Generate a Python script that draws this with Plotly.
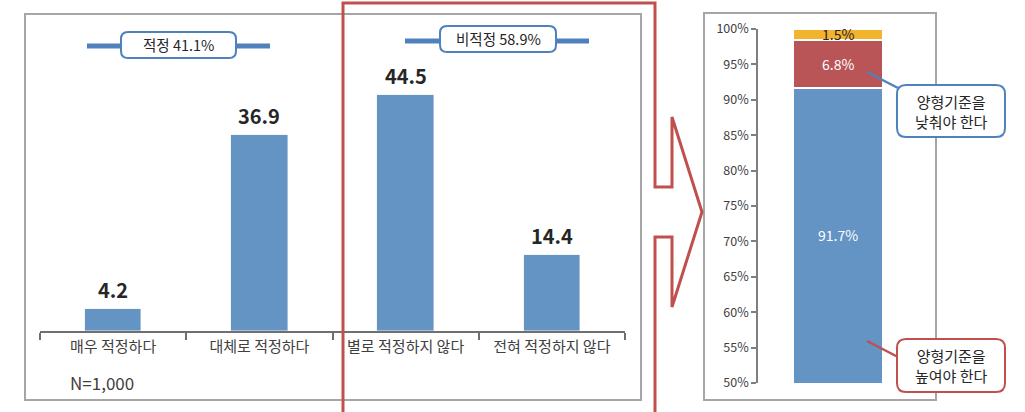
import plotly.graph_objects as go

# ---------------- data ----------------
categories = ["매우 적정하다", "대체로 적정하다", "별로 적정하지 않다", "전혀 적정하지 않다"]
values = [4.2, 36.9, 44.5, 14.4]
group_labels = ["적정 41.1%", "비적정 58.9%"]
sample_note = "N=1,000"

stack_names = ["양형기준을 높여야 한다", "양형기준을 낮춰야 한다", "기타"]
stack_values = [91.7, 6.8, 1.5]
stack_colors = ["#6394C3", "#B95457", "#F2B32F"]
stack_text_colors = ["white", "white", "#262626"]
callout_texts = ["양형기준을<br>낮춰야 한다", "양형기준을<br>높여야 한다"]
right_ticks = [50, 55, 60, 65, 70, 75, 80, 85, 90, 95, 100]

W, H = 1025, 412
FONT = "Noto Sans CJK KR, Noto Sans, sans-serif"
BLUE = "#6394C3"
LINE_BLUE = "#4F81BD"
RED = "#C0504D"
GRAY = "#A6A6A6"


def px(x):
    return x / W


def py(y):
    return 1 - y / H


fig = go.Figure()

# left bar chart
fig.add_trace(go.Bar(
    x=categories, y=values, marker_color=BLUE, width=0.385,
    xaxis="x", yaxis="y", showlegend=False, hoverinfo="x+y"))

# right stacked bar
for name, v, c in zip(stack_names, stack_values, stack_colors):
    fig.add_trace(go.Bar(
        x=["양형기준"], y=[v], name=name, marker_color=c,
        marker_line_color="white", marker_line_width=2, width=1.0,
        xaxis="x2", yaxis="y2", showlegend=False))

annotations = []
# value labels
for c, v in zip(categories, values):
    annotations.append(dict(
        x=c, y=v, xref="x", yref="y", text=f"{v:.1f}", showarrow=False,
        xanchor="center", yanchor="bottom", yshift=3,
        font=dict(family=FONT, size=20, color="#262626", weight="bold")))

# stacked labels
y_min = right_ticks[0]
cum = 0
for v, tc in zip(stack_values, stack_text_colors):
    lo = max(cum, y_min)
    hi = cum + v
    annotations.append(dict(
        x="양형기준", y=(lo + hi) / 2, xref="x2", yref="y2", text=f"{v}%",
        xanchor="center", yanchor="middle",
        showarrow=False, font=dict(family=FONT, size=14, color=tc)))
    cum = hi

shapes = []


def rect(x0, y0, x1, y1, color, width, fill="rgba(0,0,0,0)"):
    shapes.append(dict(type="rect", xref="paper", yref="paper",
                       x0=px(x0), x1=px(x1), y0=py(y0), y1=py(y1),
                       line=dict(color=color, width=width), fillcolor=fill))


def line(x0, y0, x1, y1, color, width):
    shapes.append(dict(type="line", xref="paper", yref="paper",
                       x0=px(x0), x1=px(x1), y0=py(y0), y1=py(y1),
                       line=dict(color=color, width=width)))


def rrect(x0, y0, x1, y1, r, color, width, fill="white"):
    pts = [
        f"M {px(x0 + r)} {py(y0)}",
        f"L {px(x1 - r)} {py(y0)}",
        f"Q {px(x1)} {py(y0)} {px(x1)} {py(y0 + r)}",
        f"L {px(x1)} {py(y1 - r)}",
        f"Q {px(x1)} {py(y1)} {px(x1 - r)} {py(y1)}",
        f"L {px(x0 + r)} {py(y1)}",
        f"Q {px(x0)} {py(y1)} {px(x0)} {py(y1 - r)}",
        f"L {px(x0)} {py(y0 + r)}",
        f"Q {px(x0)} {py(y0)} {px(x0 + r)} {py(y0)}",
        "Z",
    ]
    shapes.append(dict(type="path", xref="paper", yref="paper", path=" ".join(pts),
                       line=dict(color=color, width=width), fillcolor=fill))


def note(x, y, text, size, color, xanchor="center"):
    annotations.append(dict(x=px(x), y=py(y), xref="paper", yref="paper",
                            text=text, showarrow=False, xanchor=xanchor,
                            yanchor="middle", align="center",
                            font=dict(family=FONT, size=size, color=color)))


# panel frames
rect(25, 14, 641, 400, GRAY, 2)
rect(704, 13, 936, 400, GRAY, 2)

# group brackets
line(87, 46, 270, 46, LINE_BLUE, 5)
rrect(121, 32, 236, 58, 7, LINE_BLUE, 2)
line(405, 41, 589, 41, LINE_BLUE, 5)
rrect(440, 26, 556, 52, 7, LINE_BLUE, 2)
note(178.5, 45, group_labels[0], 14.5, "#262626")
note(498, 39, group_labels[1], 14.5, "#262626")

# red arrow frame
arrow_pts = [(343, 412), (343, 3), (655, 3), (655, 187), (672, 187), (672, 117),
             (702, 212), (672, 307), (672, 237), (655, 237), (655, 412)]
path = "M " + " L ".join(f"{px(a)} {py(b)}" for a, b in arrow_pts)
shapes.append(dict(type="path", xref="paper", yref="paper", path=path,
                   line=dict(color=RED, width=3)))

# callouts
line(867, 72, 898, 88, LINE_BLUE, 2.5)
rrect(897, 85, 1005, 137, 9, LINE_BLUE, 2)
line(867, 341, 898, 357, RED, 2.5)
rrect(897, 339, 1005, 392, 9, RED, 2)
note(951, 111, callout_texts[0], 15, "#262626")
note(951, 365.5, callout_texts[1], 15, "#262626")

# sample note
note(68, 382, sample_note, 17, "#404040", xanchor="left")

fig.update_layout(
    width=W, height=H, autosize=False,
    margin=dict(l=0, r=0, t=0, b=0, pad=0),
    paper_bgcolor="white", plot_bgcolor="rgba(0,0,0,0)",
    barmode="stack", bargap=0, showlegend=False,
    font=dict(family=FONT, color="#404040"),
    xaxis=dict(domain=[px(40), px(625)], range=[-0.5, 3.5], type="category",
               showline=True, linecolor="#6F6F6F", linewidth=2,
               ticks="outside", tickson="boundaries", ticklen=7, tickwidth=2,
               tickcolor="#6F6F6F", showgrid=False, zeroline=False,
               tickfont=dict(family=FONT, size=15, color="#404040"),
               ticklabelstandoff=1,
               anchor="y", fixedrange=True, automargin=False),
    yaxis=dict(domain=[py(331), py(331 - 50 * 236 / 44.5)], range=[0, 50],
               visible=False, anchor="x", fixedrange=True, automargin=False),
    xaxis2=dict(domain=[px(793), px(883)], range=[-0.5, 0.5], visible=False,
                anchor="y2", fixedrange=True, automargin=False),
    yaxis2=dict(domain=[py(383), py(29)], range=[50, 100], anchor="free",
                position=px(757), showline=True, linecolor="#7F7F7F",
                linewidth=1.5, ticks="outside", ticklen=5, tickwidth=1.5,
                tickcolor="#7F7F7F", tickmode="array", tickvals=right_ticks,
                ticktext=[f"{t}%" for t in right_ticks],
                showgrid=False, zeroline=False,
                tickfont=dict(family=FONT, size=12.5, color="#404040"),
                fixedrange=True, automargin=False),
    shapes=shapes,
    annotations=annotations,
)

fig.write_html("out.html")
